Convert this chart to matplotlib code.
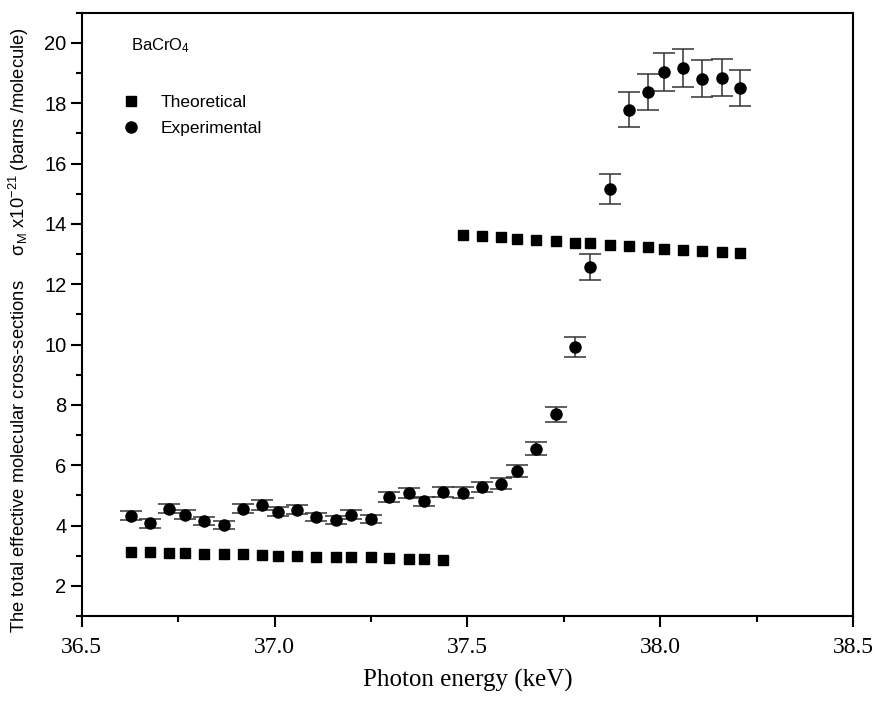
import matplotlib
matplotlib.use("Agg")
import matplotlib.pyplot as plt
from matplotlib.ticker import MultipleLocator
from matplotlib.lines import Line2D

# ---------------- data ----------------
energy = [36.628, 36.678, 36.727, 36.769, 36.818, 36.868, 36.918, 36.968, 37.008,
          37.058, 37.108, 37.159, 37.199, 37.249, 37.298, 37.348, 37.388, 37.438,
          37.488, 37.539, 37.588, 37.628, 37.678, 37.729, 37.779, 37.819, 37.870,
          37.920, 37.969, 38.009, 38.059, 38.109, 38.159, 38.208]

theoretical = [3.11, 3.11, 3.10, 3.08, 3.06, 3.05, 3.04, 3.01, 3.00,
               2.98, 2.97, 2.95, 2.95, 2.94, 2.91, 2.90, 2.88, 2.87,
               13.62, 13.61, 13.56, 13.51, 13.47, 13.42, 13.38, 13.35, 13.31,
               13.27, 13.22, 13.18, 13.14, 13.10, 13.07, 13.02]

experimental = [4.33, 4.08, 4.55, 4.35, 4.15, 4.02, 4.55, 4.67, 4.46,
                4.52, 4.28, 4.19, 4.35, 4.21, 4.95, 5.08, 4.80, 5.10,
                5.09, 5.27, 5.38, 5.82, 6.55, 7.68, 9.92, 12.57, 15.16,
                17.79, 18.37, 19.03, 19.18, 18.81, 18.85, 18.49]

exp_error = [0.15, 0.15, 0.15, 0.15, 0.14, 0.14, 0.15, 0.16, 0.15,
             0.15, 0.14, 0.14, 0.15, 0.14, 0.16, 0.17, 0.16, 0.17,
             0.17, 0.17, 0.18, 0.20, 0.22, 0.25, 0.32, 0.42, 0.50,
             0.58, 0.60, 0.63, 0.63, 0.62, 0.62, 0.60]

x_ticks = [36.5, 37.0, 37.5, 38.0, 38.5]
y_ticks = [2, 4, 6, 8, 10, 12, 14, 16, 18, 20]

# ---------------- fonts ----------------
SANS = "Liberation Sans"
SERIF = "Liberation Serif"
plt.rcParams['font.family'] = [SANS, 'DejaVu Sans']
plt.rcParams['mathtext.fontset'] = 'custom'
plt.rcParams['mathtext.rm'] = SANS
plt.rcParams['mathtext.it'] = SANS
plt.rcParams['mathtext.bf'] = SANS

fig = plt.figure(figsize=(8.75, 7.04), dpi=100)
ax = fig.add_axes([0.0934, 0.125, 0.8815, 0.857])

ax.plot(energy, theoretical, linestyle='none', marker='s', markersize=7,
        color='black')
ax.errorbar(energy, experimental, yerr=exp_error, fmt='o', markersize=8,
            color='black', ecolor='#333333', elinewidth=1.1, capsize=8,
            capthick=1.1)

ax.set_xlim(36.5, 38.5)
ax.set_ylim(1, 21)
ax.set_xticks(x_ticks)
ax.set_yticks(y_ticks)
ax.xaxis.set_minor_locator(MultipleLocator(0.25))
ax.yaxis.set_minor_locator(MultipleLocator(1))
ax.set_xticklabels([f"{v:.1f}" for v in x_ticks], fontfamily=SERIF, fontsize=17)
ax.set_yticklabels([str(v) for v in y_ticks], fontsize=14.5)

ax.tick_params(axis='both', which='major', direction='out', length=8, width=1.5,
               top=False, right=False)
ax.tick_params(axis='both', which='minor', direction='out', length=4.5, width=1.5,
               top=False, right=False)
ax.tick_params(axis='x', which='major', pad=7)
ax.tick_params(axis='y', which='major', pad=3)
for s in ax.spines.values():
    s.set_linewidth(1.5)

ax.set_xlabel("Photon energy (keV)", fontfamily=SERIF, fontsize=18, labelpad=8)
ax.set_ylabel("The total effective molecular cross-sections     "
              "σ$_{\\rm M}$ x10$^{-21}$ (barns /molecule)", fontsize=13.2)
ax.yaxis.set_label_coords(-0.066, 0.474)

ax.text(0.064, 0.945, "BaCrO$_4$", transform=ax.transAxes, fontsize=12,
        ha='left', va='center')

handles = [Line2D([], [], linestyle='none', marker='s', markersize=7, color='black'),
           Line2D([], [], linestyle='none', marker='o', markersize=8, color='black')]
ax.legend(handles, ['Theoretical', 'Experimental'], loc='center left',
          bbox_to_anchor=(0.052, 0.83), frameon=False,
          fontsize=12.5, handlelength=1.0, handletextpad=1.25,
          labelspacing=0.6, borderpad=0, borderaxespad=0)

fig.savefig("out.png", dpi=100)
